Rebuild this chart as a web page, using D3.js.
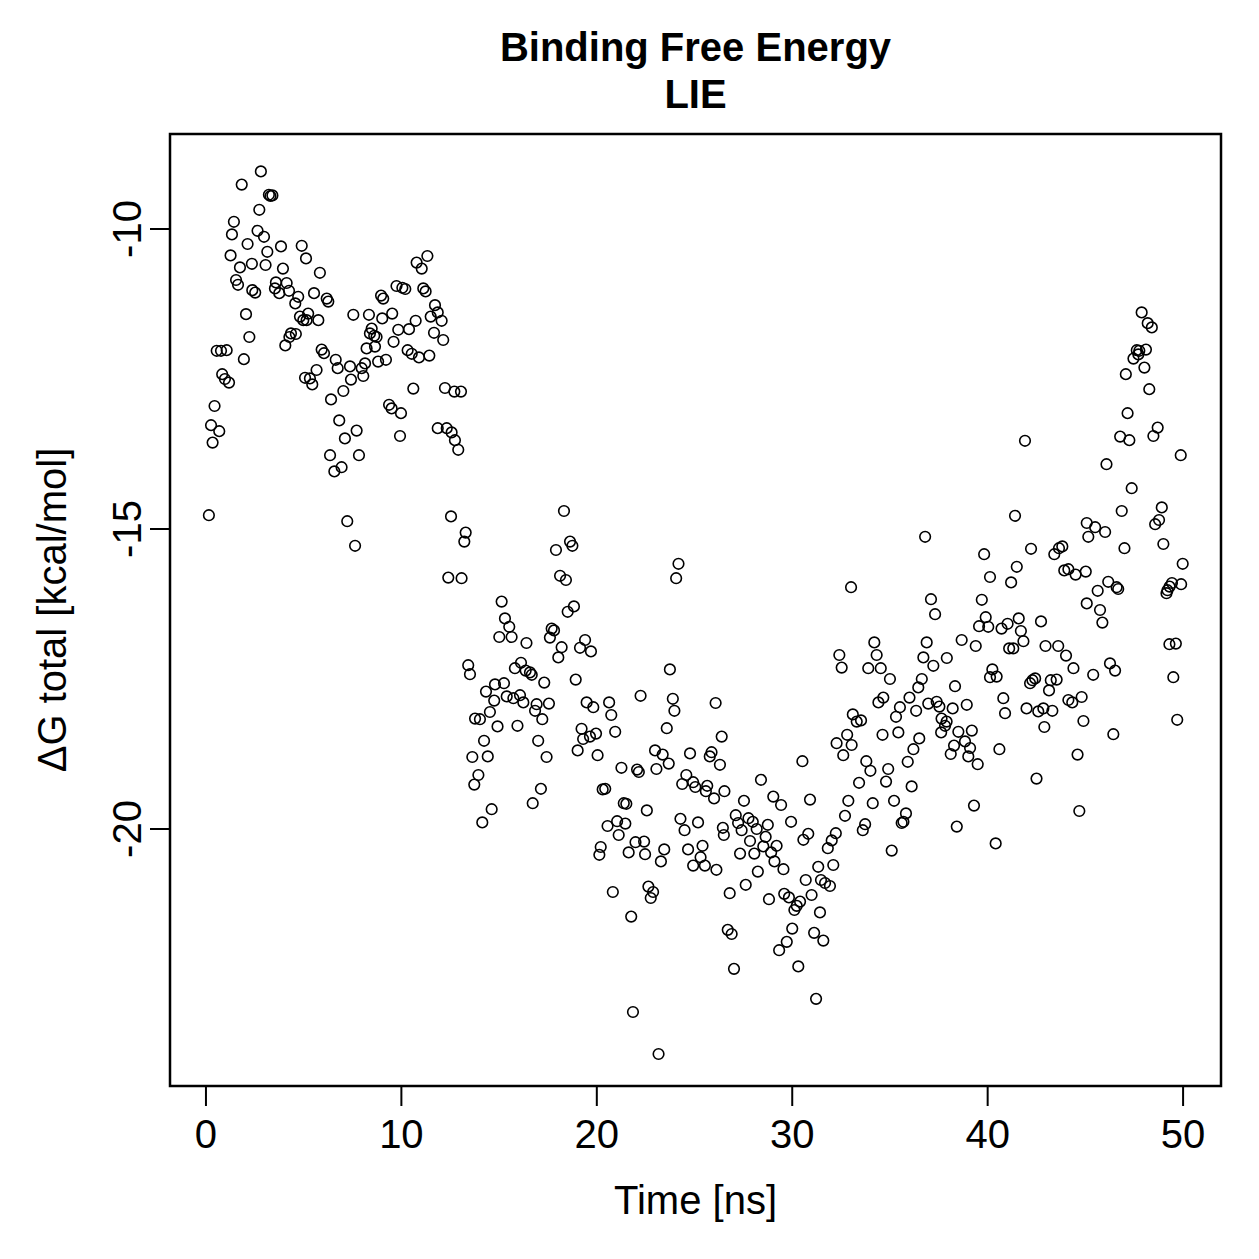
<!DOCTYPE html>
<html>
<head>
<meta charset="utf-8">
<script src="https://cdn.jsdelivr.net/npm/d3@7"></script>
<style>
  body { margin: 0; background: #fff; }
  text { font-family: "Liberation Sans", Arial, Helvetica, sans-serif; fill: #000; }
</style>
</head>
<body>
<svg id="chart" width="1259" height="1259"></svg>
<script>
// [time (ns), dG total (kcal/mol)]
const pts0_10 = [
  [0.15,-14.77],[0.26,-13.27],[0.34,-13.56],[0.44,-12.95],[0.55,-12.03],[0.68,-13.37],[0.77,-12.03],[0.83,-12.42],[0.97,-12.5],[1.06,-12.02],
  [1.18,-12.56],[1.26,-10.44],[1.33,-10.09],[1.43,-9.88],[1.54,-10.85],[1.64,-10.93],[1.74,-10.64],[1.83,-9.26],[1.94,-12.17],[2.05,-11.42],
  [2.13,-10.25],[2.22,-11.8],[2.35,-10.58],[2.37,-11.02],[2.52,-11.06],[2.64,-10.03],[2.73,-9.68],[2.81,-9.04],[2.97,-10.13],[3.05,-10.6],
  [3.14,-10.38],[3.22,-9.43],[3.3,-9.45],[3.4,-9.44],[3.53,-10.99],[3.58,-10.89],[3.75,-11.07],[3.84,-10.29],[3.94,-10.66],[4.06,-11.94],
  [4.13,-10.9],[4.25,-11.03],[4.27,-11.8],[4.35,-11.74],[4.57,-11.24],[4.6,-11.75],[4.72,-11.13],[4.81,-11.46],[4.9,-10.28],[4.98,-11.52],
  [5.07,-12.48],[5.12,-10.49],[5.15,-11.52],[5.23,-11.41],[5.32,-12.49],[5.44,-12.59],[5.53,-11.07],[5.66,-12.35],[5.75,-11.52],[5.83,-10.73],
  [5.92,-12.01],[6.04,-12.07],[6.18,-11.16],[6.26,-11.21],[6.35,-13.77],[6.4,-12.84],[6.57,-14.04],[6.64,-12.18],[6.74,-12.32],[6.82,-13.19],
  [6.94,-13.97],[7.03,-12.7],[7.11,-13.49],[7.23,-14.87],[7.37,-12.29],[7.42,-12.51],[7.54,-11.43],[7.63,-15.28],[7.71,-13.36],[7.83,-13.77],
  [7.97,-12.32],[8.05,-12.45],[8.14,-12.24],[8.22,-11.99],[8.34,-11.43],[8.39,-11.74],[8.48,-11.66],[8.61,-11.78],[8.65,-11.96],[8.73,-11.8],
  [8.81,-12.21],[8.96,-11.11],[9.02,-11.49],[9.07,-11.16],[9.21,-12.18],[9.37,-12.93],[9.5,-12.99],[9.53,-11.41],[9.6,-11.88],[9.75,-10.95],
  [9.84,-11.68],[9.93,-13.45],[9.98,-13.07]
];
const pts10_20 = [
  [10.05,-10.98],[10.2,-11.0],[10.32,-12.02],[10.39,-11.67],[10.53,-12.08],[10.61,-12.66],[10.73,-11.53],[10.78,-10.56],[10.9,-12.14],[11.04,-10.66],
  [11.12,-10.99],[11.24,-11.04],[11.33,-10.45],[11.43,-12.11],[11.5,-11.46],[11.67,-11.73],[11.72,-11.27],[11.86,-11.39],[11.86,-13.32],[12.06,-11.53],
  [12.14,-11.85],[12.23,-12.65],[12.32,-13.32],[12.4,-15.81],[12.54,-14.79],[12.57,-13.39],[12.71,-12.71],[12.74,-13.52],[12.91,-13.68],[13.05,-12.71],
  [13.08,-15.82],[13.22,-15.21],[13.29,-15.06],[13.42,-17.27],[13.51,-17.42],[13.63,-18.8],[13.73,-19.26],[13.77,-18.16],[13.94,-19.1],[14.02,-18.17],
  [14.14,-19.89],[14.23,-18.53],[14.33,-17.71],[14.42,-18.79],[14.53,-18.05],[14.62,-19.67],[14.75,-17.86],[14.79,-17.59],[14.92,-18.29],
  [15.01,-16.8],[15.13,-16.21],[15.25,-17.57],[15.3,-16.49],[15.39,-17.79],[15.52,-16.63],[15.64,-16.8],[15.73,-17.82],[15.81,-17.32],[15.94,-18.28],
  [16.07,-17.77],[16.12,-17.23],[16.24,-17.89],[16.36,-17.36],[16.4,-16.9],[16.58,-17.39],[16.67,-17.43],[16.72,-19.57],[16.84,-18.03],[16.92,-17.92],
  [17.0,-18.53],[17.14,-19.33],[17.21,-18.17],[17.31,-17.56],[17.43,-18.8],[17.55,-17.91],[17.6,-16.81],[17.69,-16.66],[17.81,-16.69],[17.91,-15.35],
  [18.03,-17.14],[18.12,-15.78],[18.2,-16.97],[18.32,-14.7],[18.42,-15.85],[18.51,-16.38],[18.63,-15.21],[18.75,-15.28],[18.83,-16.29],[18.92,-17.51],
  [19.02,-18.69],[19.14,-16.98],[19.22,-18.33],[19.3,-18.5],[19.4,-16.85],[19.48,-17.89],[19.65,-18.46],[19.7,-17.04],[19.82,-17.97],[19.96,-18.41]
];
const pts20_30 = [
  [20.04,-18.77],[20.13,-20.43],[20.2,-20.3],[20.3,-19.34],[20.43,-19.33],[20.55,-19.95],[20.63,-17.89],[20.74,-18.1],[20.82,-21.05],
  [20.94,-18.38],[21.04,-19.87],[21.12,-20.1],[21.26,-18.98],[21.38,-19.57],[21.46,-19.91],[21.51,-19.58],[21.63,-20.39],[21.76,-21.46],[21.85,-23.05],
  [21.98,-20.22],[22.06,-19.01],[22.15,-19.05],[22.24,-17.78],[22.42,-20.21],[22.47,-20.42],[22.56,-19.69],[22.64,-20.96],[22.76,-21.15],[22.88,-21.05],
  [22.98,-18.69],[23.05,-19.0],[23.16,-23.75],[23.28,-20.54],[23.37,-18.76],[23.45,-20.34],[23.58,-18.32],[23.68,-18.91],[23.74,-17.34],[23.89,-17.83],
  [23.97,-18.03],[24.06,-15.82],[24.18,-15.58],[24.28,-19.83],[24.37,-19.25],[24.49,-20.02],[24.58,-19.1],[24.67,-20.34],[24.77,-18.74],[24.93,-19.22],
  [24.93,-20.61],[25.04,-19.3],
  [25.18,-19.89],[25.31,-20.47],[25.41,-20.28],[25.53,-20.61],[25.58,-19.37],[25.65,-19.28],[25.78,-18.79],[25.87,-18.72],[26.0,-19.49],[26.08,-17.9],
  [26.12,-20.68],[26.3,-18.93],[26.39,-18.46],[26.45,-19.98],[26.5,-20.1],[26.53,-19.37],[26.7,-21.68],[26.8,-21.07],[26.9,-21.75],
  [27.02,-22.33],[27.11,-19.77],[27.23,-19.9],[27.33,-20.41],[27.41,-20.02],[27.53,-19.53],[27.62,-20.93],[27.76,-19.82],[27.84,-20.2],[27.98,-19.88],
  [28.06,-20.41],[28.18,-20.0],[28.24,-20.71],[28.4,-19.18],[28.52,-20.29],[28.64,-20.13],[28.75,-19.93],[28.81,-21.17],[28.92,-20.39],[29.03,-19.46],
  [29.09,-20.54],[29.2,-20.28],[29.33,-22.02],[29.43,-19.6],[29.55,-20.67],[29.59,-21.08],[29.72,-21.88],[29.83,-21.14],[29.94,-19.88]
];
const pts30_40 = [
  [30.0,-21.66],[30.11,-21.35],[30.23,-21.28],[30.31,-22.29],[30.4,-21.21],[30.52,-18.87],[30.57,-20.18],[30.69,-20.85],[30.82,-20.08],[30.91,-19.51],
  [30.99,-21.1],[31.12,-21.73],[31.22,-22.83],[31.33,-20.63],[31.42,-21.39],[31.47,-20.85],[31.59,-21.86],[31.68,-20.9],[31.82,-20.32],[31.93,-20.95],
  [32.02,-20.19],[32.1,-20.6],[32.23,-20.07],[32.27,-18.57],[32.41,-17.1],[32.53,-17.31],[32.61,-18.77],[32.7,-19.78],[32.81,-18.43],[32.87,-19.53],
  [33.01,-15.97],[33.04,-18.6],[33.1,-18.09],[33.3,-18.21],[33.42,-19.23],[33.52,-18.19],[33.61,-20.02],[33.73,-19.92],[33.79,-18.87],[33.89,-17.32],
  [34.0,-19.03],[34.12,-19.57],[34.2,-16.89],[34.32,-17.1],[34.41,-17.89],[34.53,-17.32],[34.62,-18.43],[34.66,-17.81],[34.8,-19.21],[34.91,-19.0],
  [35.0,-17.5],[35.09,-20.36],[35.21,-19.53],[35.31,-18.13],[35.43,-18.39],[35.51,-17.97],[35.6,-19.9],[35.69,-19.88],[35.82,-19.74],[35.91,-18.88],
  [36.0,-17.81],[36.11,-19.29],[36.2,-18.67],[36.34,-18.03],[36.45,-17.64],[36.5,-18.49],[36.63,-17.5],[36.71,-17.14],[36.8,-15.13],[36.88,-16.89],
  [36.96,-17.91],[37.1,-16.17],[37.22,-17.28],[37.31,-16.42],[37.39,-17.88],[37.53,-17.96],[37.62,-18.39],[37.64,-18.16],[37.82,-18.28],[37.9,-18.21],
  [37.91,-17.15],[38.11,-18.75],[38.21,-17.99],[38.28,-18.61],[38.33,-17.62],[38.42,-19.96],[38.5,-18.38],[38.67,-16.85],[38.84,-18.54],[38.93,-17.93],
  [39.01,-18.79],[39.1,-18.65],[39.19,-18.36],[39.3,-19.61],[39.39,-16.95],[39.49,-18.92],[39.56,-16.62],[39.7,-16.18],[39.82,-15.42],[39.9,-16.47]
];
const pts40_50 = [
  [40.03,-16.63],[40.12,-15.8],[40.12,-17.47],[40.24,-17.34],[40.41,-20.24],[40.46,-17.46],[40.6,-18.67],[40.71,-16.66],[40.8,-17.82],[40.89,-18.07],
  [41.02,-16.58],[41.1,-16.99],[41.2,-15.89],[41.31,-16.99],[41.4,-14.78],[41.49,-15.63],[41.59,-16.49],[41.7,-16.7],[41.83,-16.87],[41.91,-13.53],
  [41.99,-17.99],[42.17,-17.57],[42.22,-15.33],[42.29,-17.52],[42.43,-17.49],[42.5,-19.16],[42.59,-18.04],[42.73,-16.54],[42.85,-17.99],[42.9,-18.3],
  [42.96,-16.95],[43.14,-17.69],[43.23,-17.52],[43.31,-18.03],[43.41,-15.42],[43.53,-17.51],[43.61,-16.95],[43.65,-15.32],[43.82,-15.29],[43.92,-15.69],
  [44.01,-17.11],[44.13,-15.67],[44.13,-17.85],[44.33,-17.89],[44.39,-17.32],[44.5,-15.76],[44.6,-18.76],[44.69,-19.7],[44.81,-17.8],[44.9,-18.2],
  [45.02,-15.71],[45.07,-14.9],[45.07,-16.24],[45.15,-15.13],[45.4,-17.43],[45.5,-14.97],[45.63,-16.03],[45.75,-16.35],[45.87,-16.56],[46.01,-15.05],
  [46.08,-13.92],[46.17,-15.88],[46.26,-17.24],[46.43,-18.42],[46.52,-17.36],[46.6,-15.97],[46.68,-16.0],[46.78,-13.46],[46.86,-14.7],[47.0,-15.32],
  [47.07,-12.42],[47.16,-13.07],[47.25,-13.52],[47.37,-14.32],[47.46,-12.16],[47.63,-12.02],[47.71,-12.09],[47.76,-12.03],[47.88,-11.39],[48.02,-12.31],
  [48.1,-12.01],[48.19,-11.57],[48.27,-12.67],[48.4,-11.64],[48.48,-13.45],[48.57,-14.92],[48.7,-13.31],[48.77,-14.85],[48.91,-14.64],[48.99,-15.25],
  [49.15,-16.07],[49.2,-16.02],[49.3,-16.92],[49.31,-15.96],[49.43,-15.9],[49.5,-17.47],[49.63,-16.91],[49.7,-18.18],[49.88,-13.77],[49.9,-15.92],
  [49.98,-15.58]
];

const xTicks = [0, 10, 20, 30, 40, 50];
const yTicks = [-10, -15, -20];
const titleLines = ["Binding Free Energy", "LIE"];

const data = [].concat(pts0_10, pts10_20, pts20_30, pts30_40, pts40_50);

const svg = d3.select("#chart");
const plotL = 170, plotR = 1221, plotT = 134, plotB = 1086;

// R-style padded domains
const x = d3.scaleLinear().domain([-1.84, 51.94]).range([plotL, plotR]);
const y = d3.scaleLinear().domain([-24.283, -8.417]).range([plotB, plotT]);

// points
svg.append("g")
    .selectAll("circle")
    .data(data)
    .join("circle")
    .attr("cx", d => x(d[0]))
    .attr("cy", d => y(d[1]))
    .attr("r", 5.3)
    .attr("fill", "none")
    .attr("stroke", "#000")
    .attr("stroke-width", 1.6);

// x axis
let gx = svg.append("g").attr("transform", `translate(0,${plotB})`);
gx.append("line")
    .attr("x1", x(xTicks[0])).attr("x2", x(xTicks[xTicks.length - 1]))
    .attr("stroke", "#000").attr("stroke-width", 2);
gx.selectAll("line.tick").data(xTicks).join("line")
    .attr("class", "tick")
    .attr("x1", d => x(d)).attr("x2", d => x(d))
    .attr("y1", 0).attr("y2", 20)
    .attr("stroke", "#000").attr("stroke-width", 2);
gx.selectAll("text").data(xTicks).join("text")
    .attr("x", d => x(d)).attr("y", 62)
    .attr("text-anchor", "middle")
    .attr("font-size", "40px")
    .text(d => d);

// y axis
let gy = svg.append("g").attr("transform", `translate(${plotL},0)`);
gy.append("line")
    .attr("y1", y(yTicks[0])).attr("y2", y(yTicks[yTicks.length - 1]))
    .attr("stroke", "#000").attr("stroke-width", 2);
gy.selectAll("line.tick").data(yTicks).join("line")
    .attr("class", "tick")
    .attr("y1", d => y(d)).attr("y2", d => y(d))
    .attr("x1", 0).attr("x2", -20)
    .attr("stroke", "#000").attr("stroke-width", 2);
gy.selectAll("text").data(yTicks).join("text")
    .attr("transform", d => `translate(-29,${y(d)}) rotate(-90)`)
    .attr("text-anchor", "middle")
    .attr("font-size", "40px")
    .text(d => d);

// frame
svg.append("rect")
    .attr("x", plotL).attr("y", plotT)
    .attr("width", plotR - plotL).attr("height", plotB - plotT)
    .attr("fill", "none").attr("stroke", "#000").attr("stroke-width", 2.5);

// labels
svg.append("text")
    .attr("x", (plotL + plotR) / 2).attr("y", 1214)
    .attr("text-anchor", "middle").attr("font-size", "40px")
    .text("Time [ns]");
svg.append("text")
    .attr("transform", `translate(66,${(plotT + plotB) / 2}) rotate(-90)`)
    .attr("text-anchor", "middle").attr("font-size", "40px")
    .text("ΔG total [kcal/mol]");

svg.selectAll("text.title").data(titleLines).join("text")
    .attr("class", "title")
    .attr("x", (plotL + plotR) / 2)
    .attr("y", (d, i) => 61 + i * 47)
    .attr("text-anchor", "middle")
    .attr("font-size", "40px")
    .attr("font-weight", "bold")
    .text(d => d);
</script>
</body>
</html>
